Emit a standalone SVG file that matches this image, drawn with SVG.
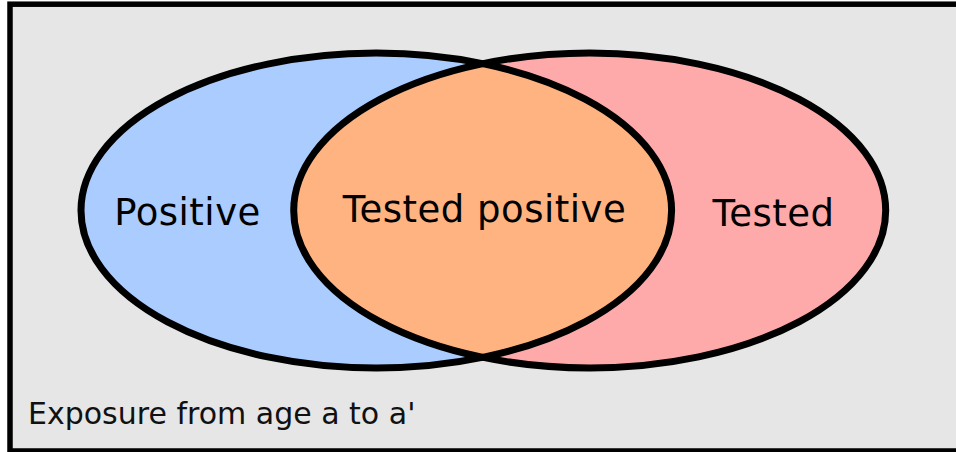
<svg xmlns="http://www.w3.org/2000/svg" width="956" height="452" viewBox="0 0 956 452">
  <style>
    .lbl { font-family: "DejaVu Sans", Verdana, sans-serif; font-size: 37px; letter-spacing: 0.5px; fill: #000; text-anchor: middle; }
    .note { font-family: "DejaVu Sans", Verdana, sans-serif; font-size: 30px; fill: #111; }
    .outline { fill: none; stroke: #000; stroke-width: 7; }
  </style>
  <defs>
    <clipPath id="clipLeft">
      <ellipse cx="376.3" cy="210.5" rx="295.3" ry="157.5"/>
    </clipPath>
  </defs>
  <g id="frame">
    <rect x="10" y="4.2" width="960" height="446.8" fill="#e6e6e6" stroke="#000" stroke-width="5.5"/>
  </g>
  <g id="positive">
    <ellipse cx="376.3" cy="210.5" rx="295.3" ry="157.5" fill="#aaccff"/>
  </g>
  <g id="tested">
    <ellipse cx="589.7" cy="210.5" rx="296" ry="157.5" fill="#ffaaaa"/>
  </g>
  <g id="tested-positive">
    <ellipse cx="589.7" cy="210.5" rx="296" ry="157.5" fill="#ffb380" clip-path="url(#clipLeft)"/>
  </g>
  <g id="outlines">
    <ellipse class="outline" cx="376.3" cy="210.5" rx="295.3" ry="157.5"/>
    <ellipse class="outline" cx="589.7" cy="210.5" rx="296" ry="157.5"/>
  </g>
  <g id="labels">
    <text class="lbl" x="187.5" y="225">Positive</text>
    <text class="lbl" x="484.5" y="222">Tested positive</text>
    <text class="lbl" x="773.5" y="226">Tested</text>
    <text class="note" x="28" y="424">Exposure from age a to a'</text>
  </g>
</svg>
